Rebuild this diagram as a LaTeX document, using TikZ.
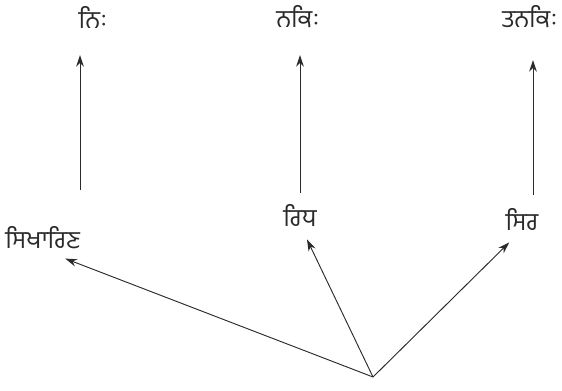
\documentclass[tikz,border=0pt]{standalone}
\usepackage{fontspec}
\usepackage{tikz}
\usetikzlibrary{arrows.meta,positioning,calc}
\newfontfamily\gurfont[Script=Gurmukhi]{Hind Jalandhar}
\definecolor{Ink}{HTML}{2A2A2A}
\tikzset{
  wordbox/.style={inner sep=1pt, font=\gurfont\fontsize{21}{24}\selectfont, text=Ink},
  thinarr/.style={-{Stealth[length=10pt,width=6.5pt]}, line width=0.8pt, color=Ink},
}

\begin{document}
\begin{tikzpicture}[x=0.03cm,y=-0.03cm]
  \useasboundingbox (0,0) rectangle (562,390);
  % upper forms
  \node[wordbox] (top1) at (93,17) {ਨਿਃ};
  \node[wordbox] (top2) at (298,17) {ਨਕਿਃ};
  \node[wordbox] (top3) at (530,17) {ਤਨਕਿਃ};
  % lower forms
  \node[wordbox, anchor=west] (mid1) at (4,238) {ਸਿਖਾਰਿਣ};
  \node[wordbox] (mid2) at (300,215) {ਰਿਧ};
  \node[wordbox] (mid3) at (522,219) {ਸਿਰ};
  \coordinate (root) at (373,377);
  \coordinate (b1) at (80,190);
  \coordinate (b2) at (300,193);
  \coordinate (b3) at (533,195);
  \draw[thinarr] (b1) -- (b1 |- 0,55);
  \draw[thinarr] (b2) -- (b2 |- 0,55);
  \draw[thinarr] (b3) -- (b3 |- 0,60);
  \draw[thinarr] (root) -- ($(mid1.south east)+(-16,8)$);
  \draw[thinarr] (root) -- ($(mid2.south)+(7,12)$);
  \draw[thinarr] (root) -- ($(mid3.south west)+(5,11)$);
\end{tikzpicture}
\end{document}
